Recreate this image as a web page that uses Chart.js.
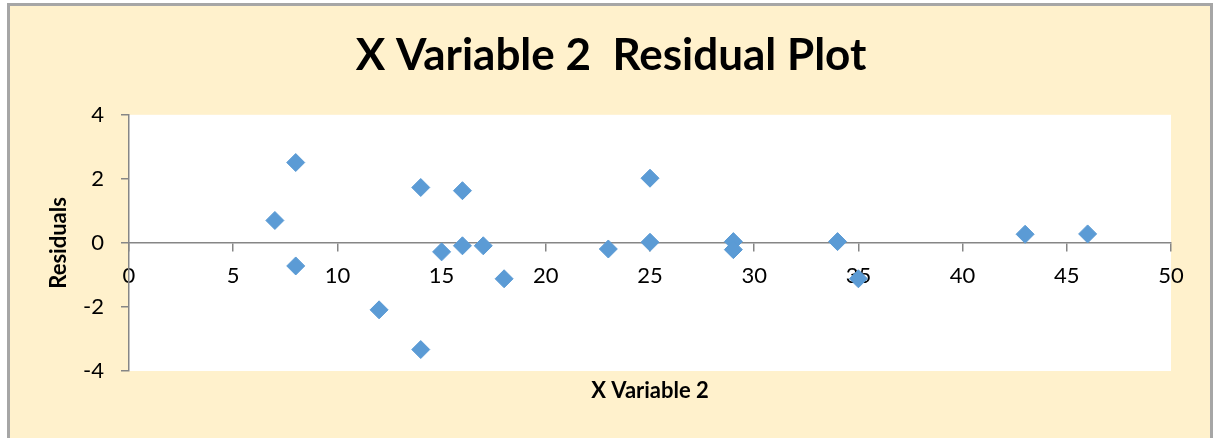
<!DOCTYPE html>
<html>
<head>
<meta charset="utf-8">
<script src="https://cdn.jsdelivr.net/npm/chart.js@4.4.0/dist/chart.umd.min.js"></script>
<style>
  html, body { margin: 0; padding: 0; background: #ffffff; }
  #wrap { width: 1213px; height: 438px; position: relative; }
</style>
</head>
<body>
<div id="wrap"><canvas id="residualChart" width="1213" height="438"></canvas></div>
<script>
// X Variable 2 observations and their regression residuals
const xVariable2 = [7, 8, 8, 12, 14, 14, 15, 16, 16, 17, 18, 23, 25, 25, 29, 29, 34, 35, 43, 46];
const residuals  = [0.70, 2.51, -0.72, -2.09, 1.73, -3.33, -0.28, 1.63, -0.09, -0.09, -1.12, -0.19, 2.02, 0.02, 0.04, -0.21, 0.04, -1.12, 0.27, 0.28];

// Axis tick values
const xTickValues = [0, 5, 10, 15, 20, 25, 30, 35, 40, 45, 50];
const yTickValues = [-4, -2, 0, 2, 4];

const FONT = 'Lato, "Open Sans", "Noto Sans", sans-serif';
const AXIS_GRAY = '#868686';

// Paints the cream frame with its grey border and the white plot area
const framePlugin = {
  id: 'frame',
  beforeDraw(chart) {
    const { ctx, chartArea: a, width, height } = chart;
    ctx.save();
    ctx.fillStyle = '#ffffff';
    ctx.fillRect(0, 0, width, height);
    ctx.fillStyle = '#FFF1CC';
    ctx.fillRect(9, 5, width - 10, height - 5);
    ctx.strokeStyle = '#A6A6A6';
    ctx.lineWidth = 3;
    ctx.strokeRect(8.5, 4.5, 1203, 440);
    ctx.fillStyle = '#ffffff';
    ctx.fillRect(a.left, a.top, a.right - a.left, a.bottom - a.top);
    ctx.restore();
  }
};

const points = xVariable2.map((x, i) => ({ x: x, y: residuals[i] }));

new Chart(document.getElementById('residualChart'), {
  type: 'scatter',
  data: {
    datasets: [{
      label: 'Residuals',
      data: points,
      xAxisID: 'x',
      yAxisID: 'y',
      pointStyle: 'rectRot',
      pointRadius: 9,
      pointHoverRadius: 9,
      borderWidth: 1,
      backgroundColor: '#5B9BD5',
      borderColor: '#5B9BD5'
    }]
  },
  options: {
    responsive: false,
    animation: false,
    devicePixelRatio: 1,
    layout: { padding: { left: 9, right: 0, top: 0, bottom: 33.6 } },
    plugins: {
      legend: { display: false },
      tooltip: { enabled: false },
      title: {
        display: true,
        text: 'X Variable 2  Residual Plot',
        color: '#000000',
        font: { family: FONT, size: 44, weight: 'bold' },
        padding: { top: 29, bottom: 33 }
      },
      subtitle: {
        display: true,
        position: 'bottom',
        fullSize: false,
        text: 'X Variable 2',
        color: '#000000',
        font: { family: FONT, size: 22, weight: 'bold' },
        padding: { top: 7, bottom: 0 }
      }
    },
    scales: {
      x: {
        type: 'linear',
        axis: 'x',
        position: { y: 0 },
        min: 0,
        max: 50,
        afterBuildTicks: s => { s.ticks = xTickValues.map(v => ({ value: v })); },
        border: { display: true, color: AXIS_GRAY, width: 1.5 },
        grid: { drawOnChartArea: false, drawTicks: true, tickLength: 8, color: AXIS_GRAY, lineWidth: 1.5 },
        ticks: { display: false }
      },
      xTickText: {
        type: 'linear',
        axis: 'x',
        position: { y: 0 },
        min: 0,
        max: 50,
        z: 1,
        afterBuildTicks: s => { s.ticks = xTickValues.map(v => ({ value: v })); },
        border: { display: false },
        grid: { display: false, drawTicks: false },
        ticks: { padding: 20, color: '#000000', autoSkip: false, maxRotation: 0, font: { family: FONT, size: 22 } }
      },
      y: {
        type: 'linear',
        position: 'left',
        min: -4,
        max: 4,
        afterBuildTicks: s => { s.ticks = yTickValues.map(v => ({ value: v })); },
        afterFit: s => { s.width = 120; },
        border: { display: true, color: AXIS_GRAY, width: 1.5 },
        grid: { drawOnChartArea: false, drawTicks: true, tickLength: 8, color: AXIS_GRAY, lineWidth: 1.5 },
        ticks: { padding: 17, color: '#000000', font: { family: FONT, size: 22 } },
        title: {
          display: true,
          text: 'Residuals',
          color: '#000000',
          font: { family: FONT, size: 22, weight: 'bold' },
          padding: { top: 37, bottom: 0 }
        }
      },
      // empty right-hand margin beside the plot area
      yMargin: {
        type: 'linear',
        axis: 'y',
        position: 'right',
        min: -4,
        max: 4,
        afterFit: s => { s.width = 42; },
        border: { display: false },
        grid: { display: false, drawTicks: false },
        ticks: { display: false }
      }
    }
  },
  plugins: [framePlugin]
});
</script>
</body>
</html>
